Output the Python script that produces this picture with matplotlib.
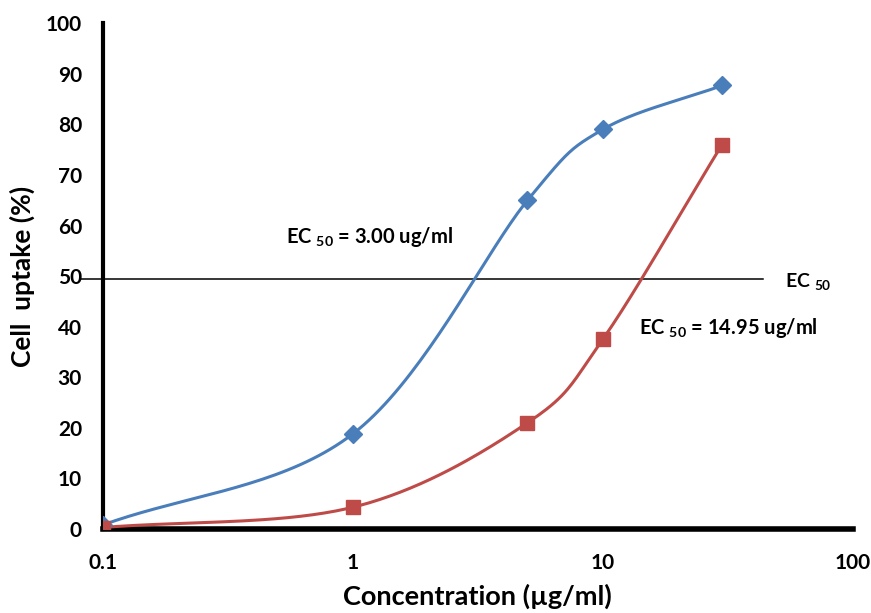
import numpy as np
import matplotlib
matplotlib.use("Agg")
import matplotlib.pyplot as plt

plt.rcParams['font.family'] = ['Lato', 'DejaVu Sans']
plt.rcParams['mathtext.fontset'] = 'custom'
plt.rcParams['mathtext.rm'] = 'Lato:bold'
plt.rcParams['mathtext.it'] = 'Lato:bold'
plt.rcParams['mathtext.bf'] = 'Lato:bold'

conc = [0.1, 1, 5, 10, 30]
blue_uptake = [0.8, 18.8, 65, 79, 87.7]
red_uptake = [0.3, 4.3, 21, 37.5, 76]
ec50_level = 49.5
x_ticks = [0.1, 1, 10, 100]
x_ticklabels = ['0.1', '1', '10', '100']
y_ticks = list(range(0, 101, 10))


def smooth(xs, ys, n=40):
    # catmull-rom in log-x space, like excel smoothed lines
    lx = np.log10(xs)
    ys = np.asarray(ys, float)
    px = np.concatenate([[2 * lx[0] - lx[1]], lx, [2 * lx[-1] - lx[-2]]])
    py = np.concatenate([[2 * ys[0] - ys[1]], ys, [2 * ys[-1] - ys[-2]]])
    outx, outy = [], []
    for i in range(1, len(px) - 2):
        t = np.linspace(0, 1, n)
        for p, out in ((px, outx), (py, outy)):
            p0, p1, p2, p3 = p[i - 1], p[i], p[i + 1], p[i + 2]
            m1 = (p2 - p0) / 2
            m2 = (p3 - p1) / 2
            h00 = 2 * t**3 - 3 * t**2 + 1
            h10 = t**3 - 2 * t**2 + t
            h01 = -2 * t**3 + 3 * t**2
            h11 = t**3 - t**2
            out.extend(h00 * p1 + h10 * m1 + h01 * p2 + h11 * m2)
    return 10 ** np.array(outx), np.array(outy)


fig = plt.figure(figsize=(8.71, 6.13), dpi=100)
ax = fig.add_axes([0.118, 0.137, 0.861, 0.825])

blue = '#4A7EBB'
red = '#BE4B48'

bx, by = smooth(conc, blue_uptake)
rx, ry = smooth(conc, red_uptake)
ax.plot(bx, by, color=blue, lw=2.2, zorder=3)
ax.plot(rx, ry, color=red, lw=2.2, zorder=3)
ax.plot(conc, blue_uptake, ls='none', marker='D', ms=9, color=blue, zorder=4)
ax.plot(conc, red_uptake, ls='none', marker='s', ms=10, color=red, zorder=4)

# EC50 reference line
ax.plot([0.081, 43.7], [ec50_level, ec50_level], color='black', lw=1.1, clip_on=False, zorder=2)

ax.text(53.5, ec50_level - 0.5, r'EC $_{50}$', fontsize=14, fontweight='bold', va='center')
ax.text(0.54, 57.7, r'EC $_{50}$ = 3.00 ug/ml', fontsize=14.5, fontweight='bold', va='center')
ax.text(14.0, 39.8, r'EC $_{50}$ = 14.95 ug/ml', fontsize=14.5, fontweight='bold', va='center')

ax.set_xscale('log')
ax.set_xlim(0.1, 100)
ax.set_ylim(0, 100)
ax.set_xticks(x_ticks)
ax.set_xticklabels(x_ticklabels)
ax.set_yticks(y_ticks)
ax.minorticks_off()
ax.tick_params(length=0, labelsize=15)
ax.tick_params(axis='x', pad=17)
ax.tick_params(axis='y', pad=15)
for lab in ax.get_xticklabels() + ax.get_yticklabels():
    lab.set_fontweight('bold')

ax.spines['top'].set_visible(False)
ax.spines['right'].set_visible(False)
ax.spines['left'].set_linewidth(3)
ax.spines['bottom'].set_linewidth(4)

ax.set_xlabel('Concentration (µg/ml)', fontsize=19.5, fontweight='bold', labelpad=8)
ax.set_ylabel('Cell  uptake (%)', fontsize=19, fontweight='bold', labelpad=8)

fig.savefig('out.png', dpi=100)
